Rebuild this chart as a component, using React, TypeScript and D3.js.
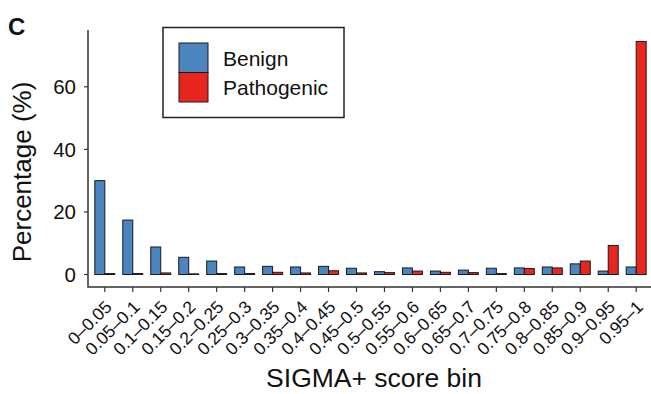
import React, { useEffect, useRef } from 'react';
import * as d3 from 'd3';

const bins = [
  '0–0.05', '0.05–0.1', '0.1–0.15', '0.15–0.2', '0.2–0.25', '0.25–0.3', '0.3–0.35',
  '0.35–0.4', '0.4–0.45', '0.45–0.5', '0.5–0.55', '0.55–0.6', '0.6–0.65', '0.65–0.7',
  '0.7–0.75', '0.75–0.8', '0.8–0.85', '0.85–0.9', '0.9–0.95', '0.95–1',
];
const benign = [30, 17.4, 8.8, 5.5, 4.3, 2.4, 2.6, 2.4, 2.6, 2.0, 0.9, 2.1, 1.1, 1.4, 2.0, 2.1, 2.4, 3.4, 1.1, 2.4];
const pathogenic = [0.3, 0.3, 0.5, 0.2, 0.3, 0.3, 0.7, 0.5, 1.2, 0.5, 0.6, 1.1, 0.7, 0.6, 0.3, 1.9, 2.1, 4.3, 9.3, 74.5];
const yTicks = [0, 20, 40, 60];
const seriesNames = ['Benign', 'Pathogenic'];
const colors = ['#4a85bf', '#e8261f'];

const FONT = '"Liberation Sans", Arial, Helvetica, sans-serif';

const App = () => {
  const svgRef = useRef<SVGSVGElement>(null);

  useEffect(() => {
    const width = 651;
    const height = 394;
    const svg = d3.select(svgRef.current);
    svg.selectAll('*').remove();

    const axisColor = '#333';
    const xAxisY = 287;
    const yAxisX = 88;

    const x = d3.scaleBand<string>().domain(bins).range([89.5, 651.5]).paddingInner(0.2857).paddingOuter(0.19);
    const xs = d3.scaleBand<string>().domain(seriesNames).range([0, x.bandwidth()]);
    const y = d3.scaleLinear().domain([0, 78]).range([274.5, 30.5]);

    const rows = bins.map((b, i) => ({ bin: b, values: [benign[i], pathogenic[i]] }));

    const g = svg.append('g');
    g.selectAll('g.grp')
      .data(rows)
      .enter()
      .append('g')
      .attr('class', 'grp')
      .attr('transform', d => `translate(${x(d.bin)},0)`)
      .selectAll('rect')
      .data(d => d.values.map((v, k) => ({ v, k })))
      .enter()
      .append('rect')
      .attr('x', d => xs(seriesNames[d.k])!)
      .attr('width', xs.bandwidth())
      .attr('y', d => y(d.v))
      .attr('height', d => y(0) - y(d.v))
      .attr('fill', d => colors[d.k])
      .attr('stroke', '#1a1a1a')
      .attr('stroke-width', 1);

    // axes
    svg.append('path')
      .attr('d', `M${yAxisX},30 V${xAxisY} H${width}`)
      .attr('fill', 'none')
      .attr('stroke', axisColor)
      .attr('stroke-width', 1.5);

    yTicks.forEach(t => {
      svg.append('line')
        .attr('x1', yAxisX - 4).attr('x2', yAxisX)
        .attr('y1', y(t)).attr('y2', y(t))
        .attr('stroke', axisColor).attr('stroke-width', 1.2);
      svg.append('text')
        .attr('x', 76).attr('y', y(t)).attr('dy', '0.36em')
        .attr('text-anchor', 'end')
        .style('font-family', FONT).style('font-size', '20.5px').attr('fill', '#111')
        .text(t);
    });

    bins.forEach(b => {
      const cx = x(b)! + x.bandwidth() / 2;
      svg.append('line')
        .attr('x1', cx).attr('x2', cx)
        .attr('y1', xAxisY).attr('y2', xAxisY + 5)
        .attr('stroke', axisColor).attr('stroke-width', 1.2);
      svg.append('text')
        .attr('transform', `translate(${cx + 8},${xAxisY + 21}) rotate(-45)`)
        .attr('text-anchor', 'end')
        .style('font-family', FONT).style('font-size', '17.5px').attr('fill', '#111')
        .text(b);
    });

    svg.append('text')
      .attr('transform', `translate(31,172) rotate(-90)`)
      .attr('text-anchor', 'middle')
      .style('font-family', FONT).style('font-size', '26px').attr('fill', '#111')
      .text('Percentage (%)');

    svg.append('text')
      .attr('x', 374).attr('y', 386.5)
      .attr('text-anchor', 'middle')
      .style('font-family', FONT).style('font-size', '26.5px').attr('fill', '#111')
      .text('SIGMA+ score bin');

    svg.append('text')
      .attr('x', 8).attr('y', 35)
      .style('font-family', FONT).style('font-size', '24px').style('font-weight', 'bold').attr('fill', '#111')
      .text('C');

    // legend
    const lg = svg.append('g');
    lg.append('rect')
      .attr('x', 163).attr('y', 27.5).attr('width', 181).attr('height', 90)
      .attr('fill', 'white').attr('stroke', '#222').attr('stroke-width', 1.5);
    seriesNames.forEach((name, k) => {
      lg.append('rect')
        .attr('x', 179).attr('y', 43 + k * 29.5).attr('width', 29).attr('height', 29.5)
        .attr('fill', colors[k]).attr('stroke', '#1a1a1a').attr('stroke-width', 1);
      lg.append('text')
        .attr('x', 223).attr('y', 58 + k * 29.5).attr('dy', '0.36em')
        .style('font-family', FONT).style('font-size', '21px').attr('fill', '#111')
        .text(name);
    });

    svg.attr('width', width).attr('height', height);
  }, []);

  return (
    <svg ref={svgRef} width={651} height={394} style={{ position: 'absolute', left: 0, top: 0, background: 'white' }}></svg>
  );
};

export default App;
